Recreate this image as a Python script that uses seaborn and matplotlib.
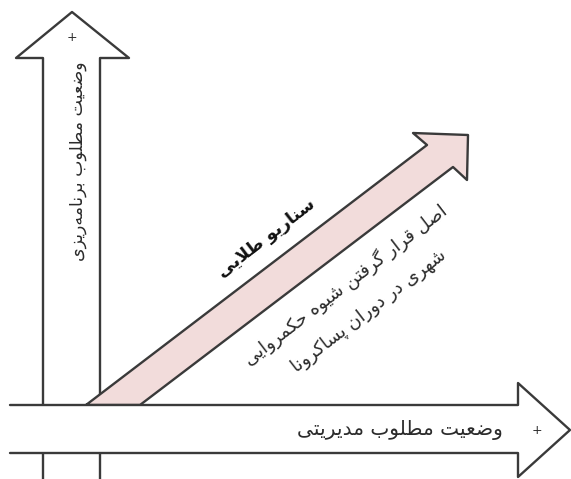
"""
Scenario diagram: two axis arrows (planning / management) and the
"golden scenario" diagonal arrow, drawn on a pixel-sized canvas.
"""
import numpy as np
import pandas as pd
import matplotlib
matplotlib.use("Agg")
import matplotlib.pyplot as plt
import seaborn as sns

W, H = 571, 479

# ── labels ───────────────────────────────────────────────────────────────────
V_LABEL = "وضعیت مطلوب برنامه‌ریزی"
H_LABEL = "وضعیت مطلوب مدیریتی"
D_TITLE = "سناریو طلایی"
D_NOTE = ["اصل قرار گرفتن شیوه حکمروایی", "شهری در دوران پساکرونا"]
PLUS = "+"

# ── arrow outlines (pixel coords, y down) ────────────────────────────────────
v_x = [43, 43, 16, 72, 129, 100, 100]
v_y = [490, 58, 58, 12, 58, 58, 490]

h_x = [10, 518, 518, 570, 518, 518, 10]
h_y = [405, 405, 383, 430, 477, 453, 453]

d_x = [86, 427, 413, 468, 467, 453, 140]
d_y = [405, 145, 133, 135, 180, 167, 405]

LINE = "#3a3a3a"
PINK = "#f2dcdb"
TEXT = "#2b2b2b"
ANGLE = 37.5


# ── tiny Persian shaper (matplotlib has no bidi / joining) ───────────────────
_DUAL = {
    "ب": 0xFE8F, "ت": 0xFE95, "ث": 0xFE99, "ج": 0xFE9D, "ح": 0xFEA1,
    "خ": 0xFEA5, "س": 0xFEB1, "ش": 0xFEB5, "ص": 0xFEB9, "ض": 0xFEBD,
    "ط": 0xFEC1, "ظ": 0xFEC5, "ع": 0xFEC9, "غ": 0xFECD, "ف": 0xFED1,
    "ق": 0xFED5, "ل": 0xFEDD, "م": 0xFEE1, "ن": 0xFEE5, "ه": 0xFEE9,
    "پ": 0xFB56, "چ": 0xFB7A, "ک": 0xFB8E, "گ": 0xFB92, "ی": 0xFBFC,
}
_RIGHT = {
    "ا": 0xFE8D, "د": 0xFEA9, "ذ": 0xFEAB, "ر": 0xFEAD, "ز": 0xFEAF,
    "ژ": 0xFB8A, "و": 0xFEED,
}


def shape(text):
    chars = list(text)
    out = []
    i = 0
    while i < len(chars):
        c = chars[i]
        prev = chars[i - 1] if i > 0 else None
        joins_prev = prev in _DUAL
        if c == "ل" and i + 1 < len(chars) and chars[i + 1] == "ا":
            out.append(chr(0xFEFC if joins_prev else 0xFEFB))
            i += 2
            continue
        nxt = chars[i + 1] if i + 1 < len(chars) else None
        joins_next = c in _DUAL and (nxt in _DUAL or nxt in _RIGHT)
        if c in _DUAL:
            base = _DUAL[c]
            off = {(False, False): 0, (True, False): 1,
                   (False, True): 2, (True, True): 3}[(joins_prev, joins_next)]
            out.append(chr(base + off))
        elif c in _RIGHT:
            out.append(chr(_RIGHT[c] + (1 if joins_prev else 0)))
        elif c == "\u200c":
            pass
        else:
            out.append(c)
        i += 1
    return "".join(reversed(out))


sns.set_theme(style="white")
plt.rcParams["font.family"] = ["DejaVu Sans"]

fig = plt.figure(figsize=(W / 100, H / 100), dpi=100)
ax = fig.add_axes([0, 0, 1, 1])


def outline(xs, ys, fill, z, closed):
    ax.fill(xs, ys, color=fill, lw=0, zorder=z)
    if closed:
        xs, ys = xs + xs[:1], ys + ys[:1]
    df = pd.DataFrame({"x": xs, "y": ys})
    sns.lineplot(data=df, x="x", y="y", sort=False, estimator=None,
                 color=LINE, lw=1.7, ax=ax, zorder=z + 0.1)


outline(v_x, v_y, "white", 1, False)
outline(d_x, d_y, PINK, 2, True)
# horizontal arrow: left end open
outline(h_x, h_y, "white", 3, False)
ax.set_xlim(0, W)
ax.set_ylim(H, 0)
ax.axis("off")

# vertical label
ax.text(72, 37, PLUS, ha="center", va="center", fontsize=9, color=TEXT, zorder=5)
ax.text(78, 161, shape(V_LABEL), rotation=90, ha="center", va="center",
        fontsize=12.5, color=TEXT, zorder=5)

# horizontal label
ax.text(537, 430, PLUS, ha="center", va="center", fontsize=9, color=TEXT, zorder=5)
ax.text(400, 430, shape(H_LABEL), ha="center", va="center",
        fontsize=14.5, color=TEXT, zorder=5)

# diagonal labels
ax.text(266, 238, shape(D_TITLE), rotation=ANGLE, rotation_mode="anchor",
        ha="center", va="center", fontsize=12.5, fontweight="bold",
        color="#111111", zorder=5)
ax.text(345, 285, shape(D_NOTE[0]), rotation=ANGLE, rotation_mode="anchor",
        ha="center", va="center", fontsize=13, color=TEXT, zorder=5)
ax.text(369, 311, shape(D_NOTE[1]), rotation=ANGLE, rotation_mode="anchor",
        ha="center", va="center", fontsize=13, color=TEXT, zorder=5)

fig.savefig("out.png", dpi=100)
